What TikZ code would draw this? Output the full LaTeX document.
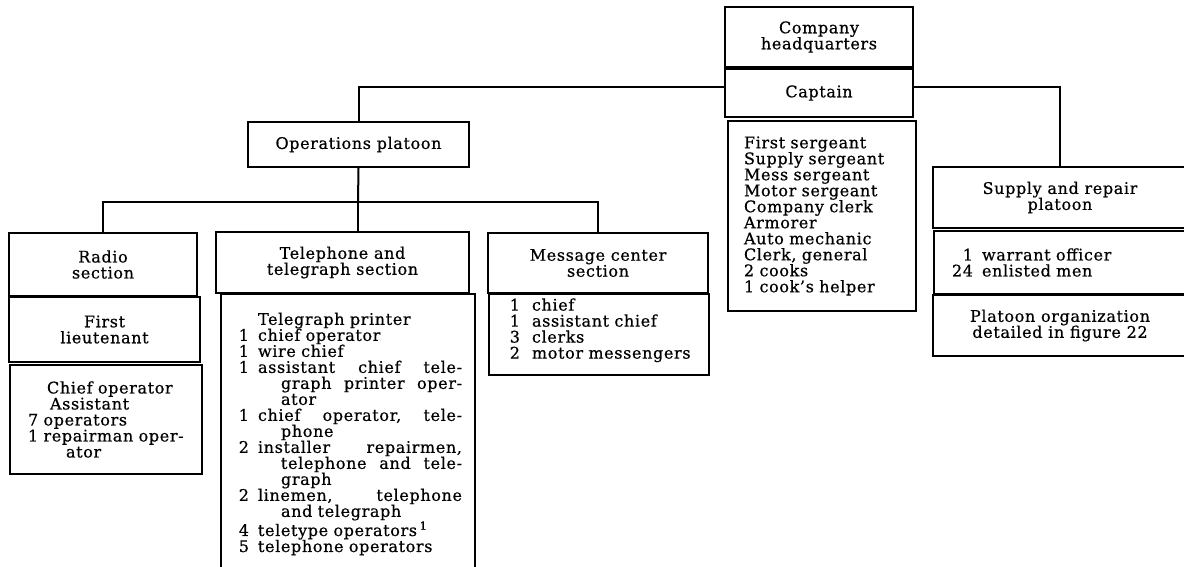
\documentclass[tikz,border=0pt]{standalone}
\usepackage{fontspec}
\setmainfont[LetterSpace=4,FakeBold=0.6]{DejaVu Serif}
\tikzset{
  box/.style={draw,line width=2pt,inner sep=0pt,align=center,font=\fontsize{16}{16}\selectfont},
  lst/.style={box,anchor=north west,align=left},
  link/.style={line width=2pt}
}
\newcommand{\itm}[3][10pt]{\mbox{\makebox[#1][r]{#2}\hspace{9pt}#3}}
\newcommand{\jl}[2]{\makebox[#1][s]{#2}}
\begin{document}
\begin{tikzpicture}[x=1pt,y=-1pt]
\useasboundingbox (0,0) rectangle (1184,566);
\node[box,minimum width=188pt,minimum height=60pt] (hq) at (819,37) {Company\\headquarters};
\node[box,minimum width=188pt,minimum height=48pt] (cpt) at (819,93) {Captain};
\node[lst,minimum height=190pt,text width=156pt,inner xsep=16pt] (hqlist) at (727,120) {First sergeant\\
Supply sergeant\\ Mess sergeant\\ Motor sergeant\\ Company clerk\\ Armorer\\ Auto mechanic\\
Clerk, general\\ 2 cooks\\ 1 cook's helper};
\node[box,minimum width=221pt,minimum height=45pt] (ops) at (358.5,144.5) {Operations platoon};
\node[box,minimum width=254pt,minimum height=61pt] (sup) at (1060,197.5) {Supply and repair\\platoon};
\node[lst,minimum height=63pt,text width=216pt,inner xsep=19pt] (suplist) at (933,230) {\itm[20pt]{1}{warrant officer}\\
\itm[20pt]{24}{enlisted men}};
\node[box,minimum width=254pt,minimum height=61pt] (supnote) at (1060,325.5) {Platoon organization\\detailed in figure 22};
\node[box,minimum width=188pt,minimum height=63pt] (radio) at (103,264.5) {Radio\\section};
\node[box,minimum width=191pt,minimum height=65pt] (lieut) at (104.5,329.5) {First\\lieutenant};
\node[lst,minimum height=109pt,text width=156pt,inner xsep=18pt] (radlist) at (9,364) {\hspace*{19pt}Chief operator\\
\hspace*{22pt}Assistant\\ 7 operators\\ \mbox{1 repairman oper-}\\ \hspace*{38pt}ator};
\node[box,minimum width=253pt,minimum height=61pt] (tel) at (342.5,262.5) {Telephone and\\telegraph section};
\node[lst,minimum height=280pt,text width=218pt,inner xsep=18pt] (tellist) at (220,293) {\itm{}{Telegraph printer}\\
\itm{1}{chief operator}\\
\itm{1}{wire chief}\\
\itm{1}{\jl{204pt}{assistant\hfill chief\hfill tele-}}\\
\itm{}{\hspace*{23pt}\jl{181pt}{graph\hfill printer\hfill oper-}}\\
\itm{}{\hspace*{23pt}ator}\\
\itm{1}{\jl{204pt}{chief\hfill operator,\hfill tele-}}\\
\itm{}{\hspace*{23pt}phone}\\
\itm{2}{\jl{204pt}{installer\hfill repairmen,}}\\
\itm{}{\hspace*{23pt}\jl{181pt}{telephone\hfill and\hfill tele-}}\\
\itm{}{\hspace*{23pt}graph}\\
\itm{2}{\jl{204pt}{linemen,\hfill telephone}}\\
\itm{}{\hspace*{23pt}and telegraph}\\
\itm{4}{teletype operators\,\textsuperscript{1}}\\
\itm{5}{telephone operators}};
\node[box,minimum width=220pt,minimum height=60pt] (msg) at (598,263) {Message center\\section};
\node[lst,minimum height=81pt,text width=178pt,inner xsep=21pt] (msglist) at (488,293) {\itm{1}{\hspace{3pt}chief}\\
\itm{1}{\hspace{3pt}assistant chief}\\ \itm{3}{\hspace{3pt}clerks}\\ \itm{2}{\hspace{3pt}motor messengers}\\[-4pt] \mbox{}};
\coordinate (bus) at (358,202);
\draw[link] ([yshift=6pt]cpt.west) -| (ops.north);
\draw[link] ([yshift=6pt]cpt.east) -| (sup.north);
\draw[link] (ops.south) -- (bus);
\draw[link] (radio.north) |- (bus) -| (msg.north);
\draw[link] (bus) -- (bus |- tel.north);
\end{tikzpicture}
\end{document}
